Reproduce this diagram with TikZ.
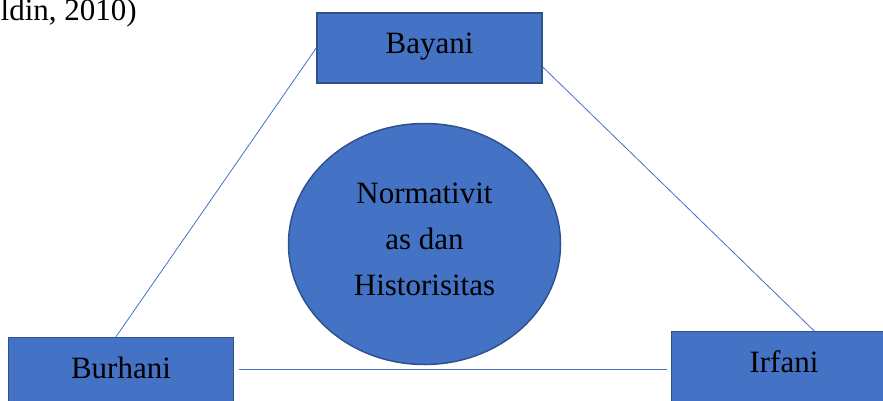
\documentclass[tikz,border=0pt]{standalone}
\usepackage{fontspec}
\setmainfont{Liberation Serif}
\usetikzlibrary{positioning,shapes.geometric}
\definecolor{BoxBlue}{RGB}{68,114,196}
\definecolor{EdgeBlue}{RGB}{47,82,143}

\begin{document}
\begin{tikzpicture}[x=1pt, y=1pt, every node/.style={font=\fontsize{31}{46}\selectfont}]
    \tikzstyle{pole} = [draw=EdgeBlue, line width=1.5pt, fill=BoxBlue, rectangle, inner sep=0pt, minimum width=225pt, minimum height=70pt, text height=21pt, text depth=9pt]
    \tikzstyle{core} = [draw=EdgeBlue, line width=1.5pt, fill=BoxBlue, ellipse, inner sep=0pt, minimum width=272pt, minimum height=241pt, align=center, text depth=10pt]
    \tikzstyle{link} = [BoxBlue, line width=0.8pt]
    \useasboundingbox (0,0) rectangle (883,-401);

    \node (cite) [anchor=base west, inner sep=0pt] at (0.5,-21) {ldin, 2010)};

    \node[pole] (bay) at (429.5,-48) {Bayani};
    \node[pole] (bur) [below left=253pt and 82pt of bay] {Burhani};
    \node[pole] (irf) [below right=247pt and 128pt of bay] {Irfani};
    \node[core] (norm) [below=39pt of bay, xshift=-5pt] {Normativit\\as dan\\Historisitas};

    \draw[link] (bay.west) -- ([xshift=-5pt]bur.north);
    \draw[link] ([yshift=-19pt]bay.east) -- ([xshift=30pt]irf.north);
    \draw[link, shorten <=5pt, shorten >=4pt] ([yshift=3pt]bur.east) -- ([yshift=3pt]bur.east -| irf.west);
\end{tikzpicture}
\end{document}
